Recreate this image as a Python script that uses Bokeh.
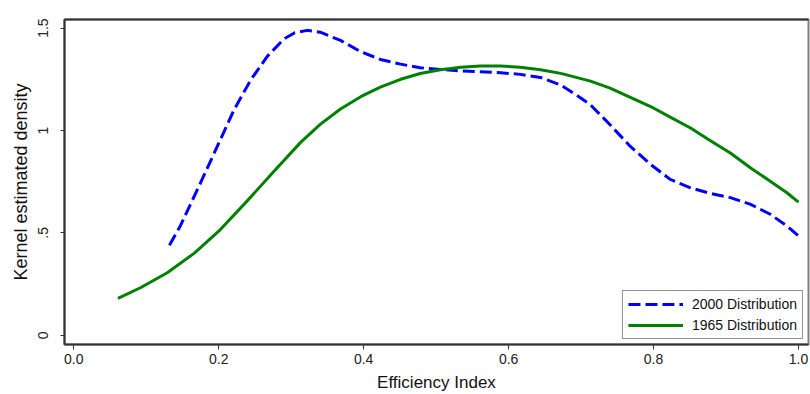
from bokeh.plotting import figure
from bokeh.models import Range1d, FixedTicker, LinearAxis, Legend, LegendItem
from bokeh.embed import file_html
from bokeh.resources import INLINE

# Kernel density estimates of the efficiency index
x_2000 = [0.132, 0.147, 0.175, 0.198, 0.221, 0.244, 0.267, 0.290, 0.305, 0.322,
          0.340, 0.368, 0.396, 0.423, 0.451, 0.478, 0.506, 0.534, 0.561, 0.589,
          0.616, 0.644, 0.672, 0.697, 0.713, 0.740, 0.768, 0.796, 0.823, 0.851,
          0.878, 0.906, 0.934, 0.961, 0.984, 1.000]
y_2000 = [0.440, 0.534, 0.745, 0.922, 1.100, 1.246, 1.362, 1.447, 1.477, 1.489,
          1.480, 1.440, 1.385, 1.347, 1.324, 1.306, 1.298, 1.291, 1.287, 1.282,
          1.274, 1.259, 1.222, 1.165, 1.125, 1.028, 0.922, 0.834, 0.761, 0.720,
          0.693, 0.672, 0.639, 0.591, 0.534, 0.485]

x_1965 = [0.061, 0.092, 0.129, 0.166, 0.202, 0.239, 0.276, 0.313, 0.340, 0.368,
          0.396, 0.423, 0.451, 0.478, 0.506, 0.534, 0.561, 0.589, 0.616, 0.644,
          0.672, 0.713, 0.740, 0.768, 0.796, 0.823, 0.851, 0.878, 0.906, 0.934,
          0.961, 0.984, 1.000]
y_1965 = [0.180, 0.232, 0.305, 0.400, 0.515, 0.655, 0.800, 0.942, 1.030, 1.105,
          1.165, 1.212, 1.250, 1.278, 1.297, 1.309, 1.315, 1.315, 1.309, 1.297,
          1.279, 1.241, 1.207, 1.162, 1.117, 1.065, 1.012, 0.951, 0.890, 0.817,
          0.752, 0.696, 0.650]

x_ticks = [0.0, 0.2, 0.4, 0.6, 0.8, 1.0]
x_tick_labels = ["0.0", "0.2", "0.4", "0.6", "0.8", "1.0"]
y_ticks = [0.0, 0.5, 1.0, 1.5]
y_tick_labels = ["0", ".5", "1", "1.5"]

series_names = ["2000 Distribution", "1965 Distribution"]

FONT = "Liberation Sans"
DARK = "#333333"

p = figure(width=810, height=394, output_backend="svg", toolbar_location=None,
           x_range=Range1d(-0.0128, 1.0138), y_range=Range1d(-0.0451, 1.542),
           min_border_left=64, min_border_right=2, min_border_top=19,
           min_border_bottom=48)
p.background_fill_color = "white"
p.border_fill_color = "white"
p.grid.visible = False
p.outline_line_color = "#808080"
p.outline_line_width = 2

r2000 = p.line(x_2000, y_2000, line_color="#0000ff", line_width=3,
               line_dash="12 5", line_join="round")
r1965 = p.line(x_1965, y_1965, line_color="#008000", line_width=3,
               line_join="round")

# x axis
xa = p.xaxis[0]
xa.ticker = FixedTicker(ticks=x_ticks)
xa.major_label_overrides = {t: s for t, s in zip(x_ticks, x_tick_labels)}
xa.axis_label = "Efficiency Index"
xa.minor_tick_line_color = None
xa.major_tick_in = 0
xa.major_tick_out = 5
xa.major_label_standoff = 4
xa.axis_label_standoff = 6
xa.axis_line_color = DARK
xa.axis_line_width = 2
xa.major_tick_line_color = DARK
xa.major_label_text_font = FONT
xa.major_label_text_font_size = "14px"
xa.major_label_text_color = "#222222"
xa.axis_label_text_font = FONT
xa.axis_label_text_font_size = "17px"
xa.axis_label_text_font_style = "normal"
xa.axis_label_text_color = "#111111"

# y axis
ya = p.yaxis[0]
ya.ticker = FixedTicker(ticks=y_ticks)
ya.major_label_overrides = {t: s for t, s in zip(y_ticks, y_tick_labels)}
ya.major_label_orientation = "vertical"
ya.axis_label = "Kernel estimated density"
ya.minor_tick_line_color = None
ya.major_tick_in = 0
ya.major_tick_out = 4
ya.major_label_standoff = 12
ya.axis_label_standoff = 5
ya.axis_line_color = DARK
ya.axis_line_width = 2
ya.major_tick_line_color = DARK
ya.major_label_text_font = FONT
ya.major_label_text_font_size = "14px"
ya.major_label_text_color = "#222222"
ya.axis_label_text_font = FONT
ya.axis_label_text_font_size = "18px"
ya.axis_label_text_font_style = "normal"
ya.axis_label_text_color = "#111111"

# dark top edge of the frame
top = LinearAxis(ticker=FixedTicker(ticks=[]), axis_line_color=DARK,
                 axis_line_width=2, major_tick_line_color=None,
                 minor_tick_line_color=None, major_label_text_font_size="0px")
p.add_layout(top, "above")

legend = Legend(items=[LegendItem(label=series_names[0], renderers=[r2000]),
                       LegendItem(label=series_names[1], renderers=[r1965])],
                location="bottom_right")
legend.label_text_font = FONT
legend.label_text_font_size = "14px"
legend.label_text_color = "#111111"
legend.glyph_width = 55
legend.glyph_height = 16
legend.label_height = 16
legend.label_standoff = 9
legend.padding = 5
legend.spacing = 5
legend.margin = 5
legend.border_line_color = "#222222"
legend.border_line_width = 1
legend.background_fill_alpha = 1.0
p.add_layout(legend)

open("out.html", "w").write(file_html(p, INLINE))
